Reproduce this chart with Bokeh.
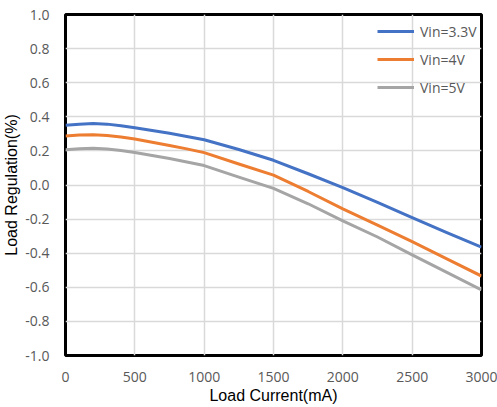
from bokeh.plotting import figure
from bokeh.models import Legend, LegendItem, Range1d, FixedTicker
from bokeh.embed import file_html
from bokeh.resources import INLINE

current = [0, 100, 200, 300, 400, 500, 625, 750, 875, 1000, 1250, 1500, 1750, 2000, 2250, 2500, 2750, 3000]
vin33 = [0.350, 0.357, 0.360, 0.357, 0.348, 0.336, 0.320, 0.303, 0.285, 0.265, 0.208, 0.145, 0.066, -0.015, -0.102, -0.192, -0.280, -0.365]
vin4 = [0.287, 0.293, 0.295, 0.291, 0.282, 0.270, 0.251, 0.232, 0.212, 0.190, 0.123, 0.058, -0.038, -0.140, -0.235, -0.332, -0.433, -0.534]
vin5 = [0.207, 0.213, 0.215, 0.211, 0.202, 0.191, 0.173, 0.155, 0.135, 0.114, 0.046, -0.020, -0.110, -0.210, -0.305, -0.410, -0.512, -0.615]
series_names = ["Vin=3.3V", "Vin=4V", "Vin=5V"]
colors = ["#4472C4", "#ED7D31", "#A5A5A5"]
x_ticks = [0, 500, 1000, 1500, 2000, 2500, 3000]
y_ticks = [-1.0, -0.8, -0.6, -0.4, -0.2, 0.0, 0.2, 0.4, 0.6, 0.8, 1.0]

p = figure(width=497, height=407, output_backend="svg", toolbar_location=None,
           x_range=Range1d(0, 3000), y_range=Range1d(-1.0, 1.0),
           min_border_left=64, min_border_right=16, min_border_top=14, min_border_bottom=52)
p.background_fill_color = "white"
p.border_fill_color = "white"
p.outline_line_color = "black"
p.outline_line_width = 3

renderers = []
for ys, c in zip([vin33, vin4, vin5], colors):
    r = p.line(current, ys, line_color=c, line_width=3, line_join="round")
    renderers.append(r)

p.xaxis.ticker = FixedTicker(ticks=x_ticks)
p.yaxis.ticker = FixedTicker(ticks=y_ticks)
p.yaxis.major_label_overrides = {t: f"{t:.1f}" for t in y_ticks}
p.xaxis.major_label_overrides = {t: str(t) for t in x_ticks}

for ax in (p.xaxis, p.yaxis):
    ax.axis_line_color = None
    ax.major_tick_line_color = None
    ax.minor_tick_line_color = None
    ax.major_label_text_font = "Open Sans"
    ax.major_label_text_font_size = "14px"
    ax.major_label_text_color = "#595959"
    ax.axis_label_text_font = "Liberation Sans"
    ax.axis_label_text_font_size = "16px"
    ax.axis_label_text_font_style = "normal"
    ax.axis_label_text_color = "#000000"

p.xaxis.axis_label = "Load Current(mA)"
p.yaxis.axis_label = "Load Regulation(%)"
p.xaxis.major_label_standoff = 10
p.yaxis.major_label_standoff = 10
p.xaxis.axis_label_standoff = 2
p.yaxis.axis_label_standoff = 2

p.xgrid.grid_line_color = "#D9D9D9"
p.ygrid.grid_line_color = "#D9D9D9"
p.xgrid.grid_line_width = 1.5
p.ygrid.grid_line_width = 1.5

legend = Legend(items=[LegendItem(label=n, renderers=[r]) for n, r in zip(series_names, renderers)],
                location=(312, 258), padding=0, margin=0, spacing=8,
                glyph_width=37, glyph_height=20, label_height=20, label_standoff=6,
                label_text_font="Open Sans", label_text_font_size="14px",
                label_text_color="#595959",
                background_fill_alpha=0, border_line_color=None)
p.add_layout(legend)

open("out.html", "w").write(file_html(p, INLINE))
